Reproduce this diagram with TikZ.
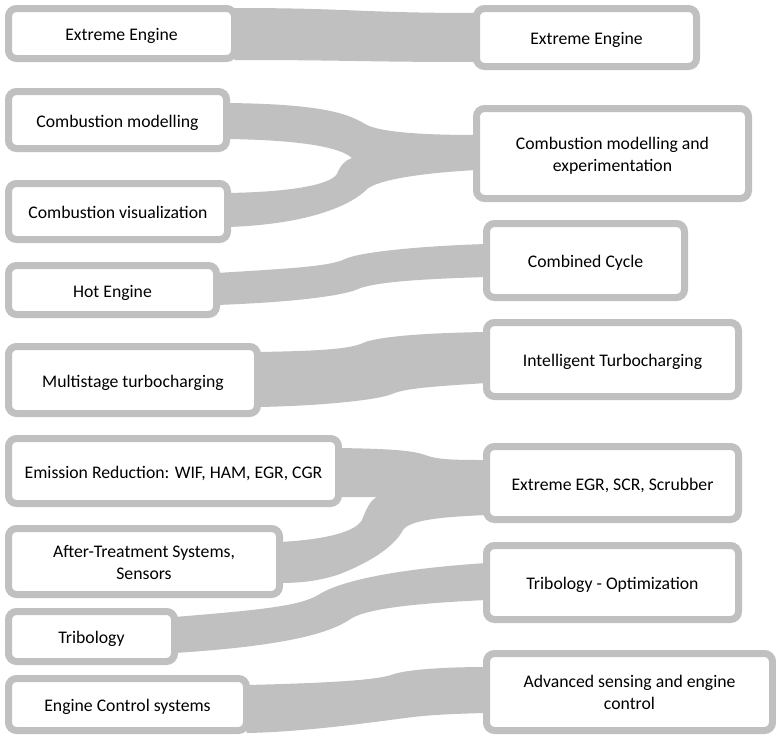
\documentclass[tikz,border=0pt]{standalone}
\usepackage{fontspec}
\setmainfont{Carlito}
\usetikzlibrary{backgrounds}
\definecolor{rib}{RGB}{192,192,192}
\tikzset{
  box/.style={draw=rib, fill=white, line width=7pt, rounded corners=8pt,
    outer sep=0pt, inner sep=2pt, align=center,
    font=\fontsize{17.7}{22}\selectfont,
    execute at begin node={\rule[-4.5pt]{0pt}{23pt}}},
  twoline/.style={execute at begin node={\rule{0pt}{40pt}}},
  ribbon/.style={fill=rib, draw=none}
}
\begin{document}
\begin{tikzpicture}[x=1pt,y=-1pt]
\useasboundingbox (0,0) rectangle (776,736);
% left column
\node[box, minimum width=226pt, minimum height=50pt] (l1) at (121.5,33.5) {Extreme Engine};
\node[box, minimum width=218pt, minimum height=57pt] (l2) at (117.5,120) {Combustion modelling};
\node[box, minimum width=219pt, minimum height=56pt] (l3) at (118,211.5) {Combustion visualization};
\node[box, minimum width=208pt, minimum height=49pt] (l4) at (112.5,290) {Hot Engine};
\node[box, minimum width=249pt, minimum height=67pt] (l5) at (133,380) {Multistage turbocharging};
\node[box, minimum width=330pt, minimum height=65pt] (l6) at (173.5,471) {Emission Reduction: WIF, HAM, EGR, CGR};
\node[box, twoline, minimum width=271pt, minimum height=66pt] (l7) at (144,561.5) {After-Treatment Systems,\\Sensors};
\node[box, minimum width=166pt, minimum height=50pt] (l8) at (91.5,636.5) {Tribology};
\node[box, minimum width=238pt, minimum height=52pt] (l9) at (127.5,704.5) {Engine Control systems};
% right column
\node[box, minimum width=220pt, minimum height=58pt] (r1) at (586.5,37.5) {Extreme Engine};
\node[box, twoline, minimum width=272pt, minimum height=90pt] (r2) at (612.5,153.5) {Combustion modelling and\\experimentation};
\node[box, minimum width=198pt, minimum height=74pt] (r3) at (585.5,260.5) {Combined Cycle};
\node[box, minimum width=252pt, minimum height=74pt] (r4) at (612.5,359.5) {Intelligent Turbocharging};
\node[box, minimum width=252pt, minimum height=73pt] (r5) at (612.5,483) {Extreme EGR, SCR, Scrubber};
\node[box, minimum width=252pt, minimum height=74pt] (r6) at (612.5,582.5) {Tribology - Optimization};
\node[box, twoline, minimum width=286pt, minimum height=77pt] (r7) at (629.5,692) {Advanced sensing and engine\\control};
\begin{scope}[on background layer]
\fill[white] (0,0) rectangle (776,736);
% 1
\path[ribbon] (l1.east |- 0,8) .. controls (350,8) and (360,13) .. (r1.west |- 0,13)
  -- (r1.west |- 0,62) .. controls (360,62) and (350,60) .. (l1.east |- 0,60) -- cycle;
% 2 (merge)
\path[ribbon] (l2.east |- 0,103) .. controls (320,104) and (347,113) .. (365,124)
  .. controls (380,133) and (430,135) .. (r2.west |- 0,135)
  -- (r2.west |- 0,170) .. controls (420,173) and (378,180) .. (367,189)
  .. controls (357,200) and (320,224) .. (l3.east |- 0,227)
  -- (l3.east |- 0,193) .. controls (290,192) and (330,185) .. (337,174)
  .. controls (340,166) and (345,160) .. (352,158)
  .. controls (340,147) and (300,140) .. (l2.east |- 0,139) -- cycle;
% 3
\path[ribbon] (l4.east |- 0,273) .. controls (300,268) and (330,266) .. (345,259)
  .. controls (360,252) and (420,246) .. (r3.west |- 0,244)
  -- (r3.west |- 0,277) .. controls (420,279) and (375,282) .. (358,289)
  .. controls (345,295) and (300,302) .. (l4.east |- 0,305) -- cycle;
% 4
\path[ribbon] (l5.east |- 0,352) .. controls (320,351) and (350,349) .. (363,343)
  .. controls (376,337) and (420,333) .. (r4.west |- 0,332)
  -- (r4.west |- 0,383) .. controls (440,386) and (405,388) .. (392,394)
  .. controls (378,400) and (320,406) .. (l5.east |- 0,407) -- cycle;
% 5 (merge)
\path[ribbon] (l6.east |- 0,448) .. controls (400,449) and (415,451) .. (428,456)
  .. controls (440,460) and (460,460) .. (r5.west |- 0,460)
  -- (r5.west |- 0,515) .. controls (440,517) and (410,520) .. (403,530)
  .. controls (395,545) and (375,560) .. (340,574)
  .. controls (320,581) and (300,583) .. (l7.east |- 0,583)
  -- (l7.east |- 0,542) .. controls (320,540) and (355,533) .. (362,520)
  .. controls (366,510) and (370,500) .. (377,497)
  -- (l6.east |- 0,497) -- cycle;
% 6
\path[ribbon] (l8.east |- 0,617) .. controls (260,610) and (300,606) .. (318,595)
  .. controls (335,584) and (380,570) .. (r6.west |- 0,563)
  -- (r6.west |- 0,600) .. controls (420,603) and (370,608) .. (352,618)
  .. controls (335,630) and (300,645) .. (l8.east |- 0,653) -- cycle;
% 7
\path[ribbon] (l9.east |- 0,685) .. controls (330,683) and (380,680) .. (394,674)
  .. controls (410,669) and (450,667) .. (r7.west |- 0,667)
  -- (r7.west |- 0,713) .. controls (440,714) and (420,716) .. (405,718)
  .. controls (360,724) and (300,732) .. (l9.east |- 0,733) -- cycle;
\end{scope}
\end{tikzpicture}
\end{document}
